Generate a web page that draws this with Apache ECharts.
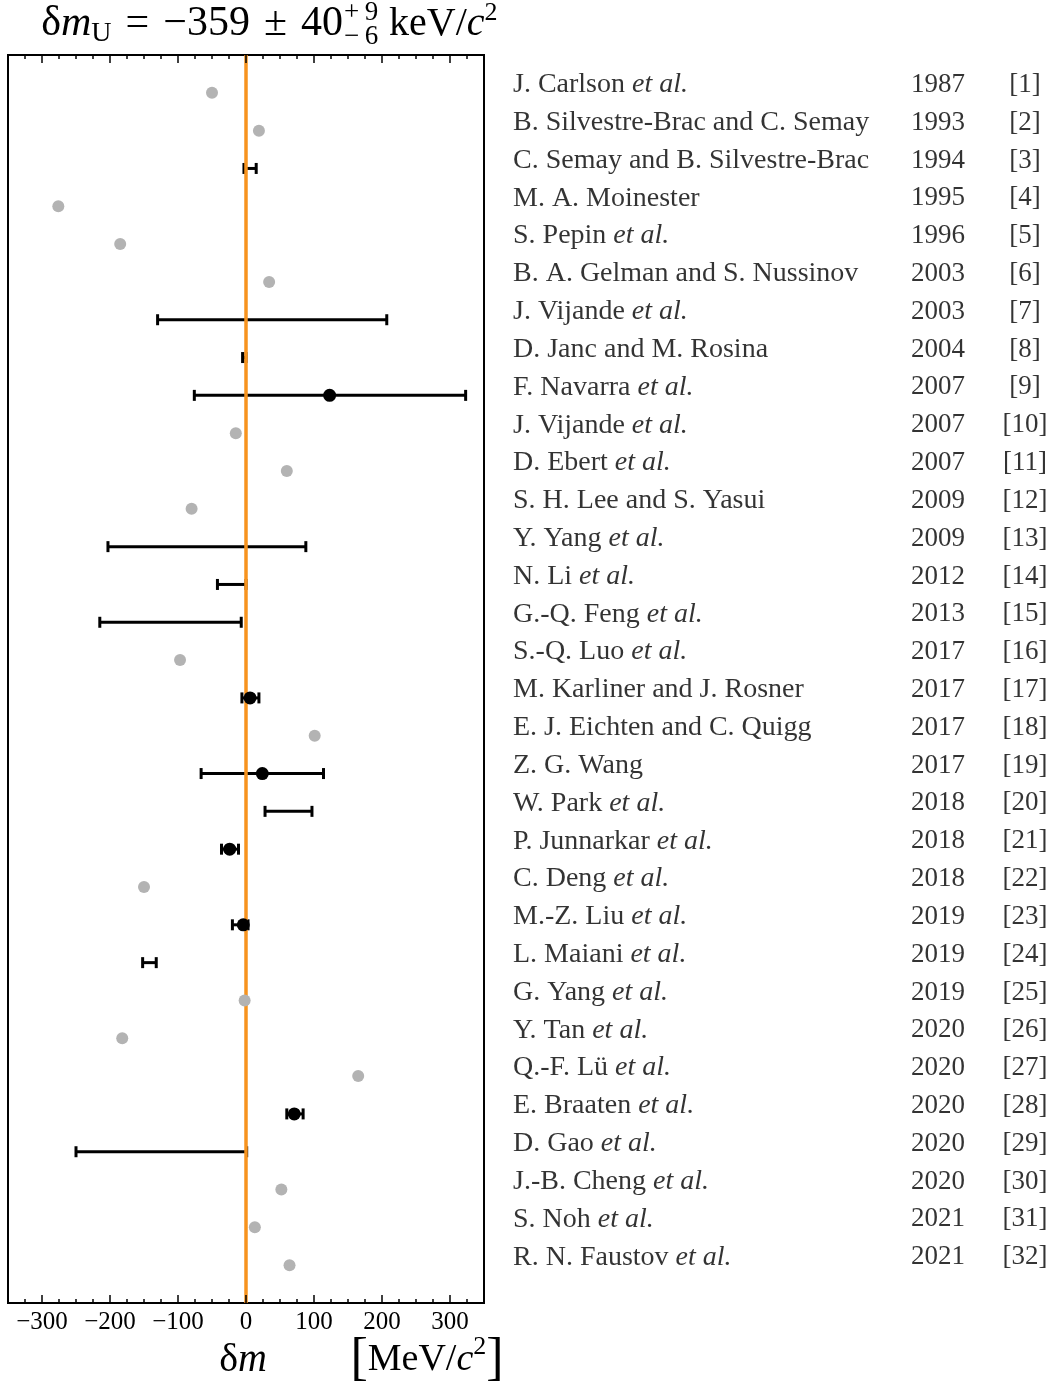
<!DOCTYPE html>
<html>
<head>
<meta charset="utf-8">
<title>delta m_U</title>
<script src="https://cdn.jsdelivr.net/npm/echarts@6/dist/echarts.min.js"></script>
<style>html,body{margin:0;padding:0;background:#fff}#main{width:1048px;height:1386px}</style>
</head>
<body>
<div id="main"></div>
<script>
// references, top to bottom
var names = [
  'J. Carlson et al.', 'B. Silvestre-Brac and C. Semay', 'C. Semay and B. Silvestre-Brac',
  'M. A. Moinester', 'S. Pepin et al.', 'B. A. Gelman and S. Nussinov', 'J. Vijande et al.',
  'D. Janc and M. Rosina', 'F. Navarra et al.', 'J. Vijande et al.', 'D. Ebert et al.',
  'S. H. Lee and S. Yasui', 'Y. Yang et al.', 'N. Li et al.', 'G.-Q. Feng et al.',
  'S.-Q. Luo et al.', 'M. Karliner and J. Rosner', 'E. J. Eichten and C. Quigg', 'Z. G. Wang',
  'W. Park et al.', 'P. Junnarkar et al.', 'C. Deng et al.', 'M.-Z. Liu et al.',
  'L. Maiani et al.', 'G. Yang et al.', 'Y. Tan et al.', 'Q.-F. L\u00fc et al.',
  'E. Braaten et al.', 'D. Gao et al.', 'J.-B. Cheng et al.', 'S. Noh et al.', 'R. N. Faustov et al.'
];
var years = ['1987','1993','1994','1995','1996','2003','2003','2004','2007','2007','2007',
  '2009','2009','2012','2013','2017','2017','2017','2017','2018','2018','2018','2019',
  '2019','2019','2020','2020','2020','2020','2020','2021','2021'];
var refs = ['[1]','[2]','[3]','[4]','[5]','[6]','[7]','[8]','[9]','[10]','[11]','[12]','[13]',
  '[14]','[15]','[16]','[17]','[18]','[19]','[20]','[21]','[22]','[23]','[24]','[25]','[26]',
  '[27]','[28]','[29]','[30]','[31]','[32]'];

// [delta m in MeV/c^2, row]
var grayPoints = [[-50,1],[19,2],[-276,4],[-185,5],[34,6],[-15,10],[60,11],[-80,12],[-97,16],
  [101,18],[-150,22],[-2,25],[-182,26],[165,27],[52,30],[13,31],[64,32]];
var blackPoints = [[123,9],[6,17],[24,19],[-24,21],[-4,23],[71,28]];
// [low, high, row]
var errorBars = [[-3,15,3],[-130,207,7],[-5,0,8],[-76,323,9],[-203,88,13],[-42,0,14],
  [-215,-7,15],[-6,19,17],[-66,114,19],[28,97,20],[-36,-11,21],[-20,3,23],[-152,-132,24],
  [60,84,28],[-250,1,29]];

var majorTicks = [-300,-200,-100,0,100,200,300];
var minorTicks = [-325,-275,-250,-225,-175,-150,-125,-75,-50,-25,
  25,50,75,125,150,175,225,250,275,325];

var FONT = 'Liberation Serif';
var ROWS_MAX = 33;
var myChart = echarts.init(document.getElementById('main'));

function fmtName(n) {
  if (n.indexOf(' et al.') > 0) {
    return '{n|' + n.replace(' et al.', '') + ' }{i|et al.}';
  }
  return '{n|' + n + '}';
}

// inward ticks on the top and bottom frame edges
function tickSeries(ticks, len) {
  return {
    type: 'custom', xAxisIndex: 0, yAxisIndex: 0, z: 6, silent: true,
    data: ticks.map(function (v) { return [v]; }),
    encode: {x: 0},
    renderItem: function (params, api) {
      var top = api.coord([api.value(0), 0]);
      var bot = api.coord([api.value(0), ROWS_MAX]);
      var st = {stroke: '#000', lineWidth: 1.5};
      return {type: 'group', children: [
        {type: 'line', shape: {x1: top[0], y1: top[1], x2: top[0], y2: top[1] + len}, style: st},
        {type: 'line', shape: {x1: bot[0], y1: bot[1], x2: bot[0], y2: bot[1] - len}, style: st}
      ]};
    }
  };
}

var option = {
  animation: false,
  grid: [
    {left: 8, top: 55, right: 564, bottom: 83, show: true, borderColor: '#000', borderWidth: 2},
    {left: 505, top: 55, right: 0, bottom: 83}
  ],
  xAxis: [
    {
      gridIndex: 0, type: 'value', min: -350, max: 350, position: 'bottom',
      axisLine: {show: false}, splitLine: {show: false}, axisTick: {show: false},
      axisLabel: {
        show: true, customValues: majorTicks, margin: 7,
        fontFamily: FONT, fontSize: 25, color: '#000',
        formatter: function (v) { return String(v).replace('-', '\u2212'); }
      }
    },
    {gridIndex: 1, type: 'value', min: 0, max: 543, show: false}
  ],
  yAxis: [
    {gridIndex: 0, type: 'value', min: 0, max: ROWS_MAX, inverse: true, show: false},
    {gridIndex: 1, type: 'value', min: 0, max: ROWS_MAX, inverse: true, show: false}
  ],
  graphic: [
    {type: 'text', x: 343, y: 0, style: {
      text: '{d|\u03b4}{m|m}{s|U}{t|\u2004=\u2004\u2212359\u2004\u00b1\u200440}',
      textAlign: 'right', textVerticalAlign: 'top',
      rich: {
        d: {fontFamily: FONT, fontSize: 42, lineHeight: 48, fill: '#000'},
        m: {fontFamily: FONT, fontSize: 42, lineHeight: 48, fontStyle: 'italic', fill: '#000'},
        s: {fontFamily: FONT, fontSize: 28, lineHeight: 27, verticalAlign: 'bottom', fill: '#000'},
        t: {fontFamily: FONT, fontSize: 42, lineHeight: 48, fill: '#000'}
      }
    }},
    {type: 'text', x: 344, y: 13, style: {text: '+\u20099', font: '27px "Liberation Serif"', fill: '#000',
      textAlign: 'left', textVerticalAlign: 'middle'}},
    {type: 'text', x: 344, y: 37, style: {text: '\u2212\u20096', font: '27px "Liberation Serif"', fill: '#000',
      textAlign: 'left', textVerticalAlign: 'middle'}},
    {type: 'text', x: 389, y: 0, style: {
      text: '{t|keV/}{c|c}{p|2}',
      textAlign: 'left', textVerticalAlign: 'top',
      rich: {
        t: {fontFamily: FONT, fontSize: 40, lineHeight: 48, fill: '#000'},
        c: {fontFamily: FONT, fontSize: 40, lineHeight: 48, fontStyle: 'italic', fill: '#000'},
        p: {fontFamily: FONT, fontSize: 26, lineHeight: 30, verticalAlign: 'top', fill: '#000'}
      }
    }},
    {type: 'text', x: 243, y: 1360, style: {
      text: '{d|\u03b4}{m|m}', textAlign: 'center', textVerticalAlign: 'middle',
      rich: {
        d: {fontFamily: FONT, fontSize: 40, fill: '#000'},
        m: {fontFamily: FONT, fontSize: 40, fontStyle: 'italic', fill: '#000'}
      }
    }},
    {type: 'text', x: 427, y: 1360, style: {
      text: '{b|[}{t|MeV/}{c|c}{p|2}{b|]}', textAlign: 'center', textVerticalAlign: 'middle',
      rich: {
        b: {fontFamily: FONT, fontSize: 52, lineHeight: 52, fill: '#000'},
        t: {fontFamily: FONT, fontSize: 38, lineHeight: 52, fill: '#000'},
        c: {fontFamily: FONT, fontSize: 38, lineHeight: 52, fontStyle: 'italic', fill: '#000'},
        p: {fontFamily: FONT, fontSize: 26, lineHeight: 40, verticalAlign: 'top', fill: '#000'}
      }
    }}
  ],
  series: [
    {
      type: 'custom', xAxisIndex: 0, yAxisIndex: 0, z: 2, silent: true,
      data: errorBars,
      encode: {x: [0, 1], y: 2},
      renderItem: function (params, api) {
        var a = api.coord([api.value(0), api.value(2)]);
        var b = api.coord([api.value(1), api.value(2)]);
        var h = 5.5;
        var st = {stroke: '#000', lineWidth: 3};
        return {type: 'group', children: [
          {type: 'line', shape: {x1: a[0], y1: a[1], x2: b[0], y2: b[1]}, style: st},
          {type: 'line', shape: {x1: a[0], y1: a[1] - h, x2: a[0], y2: a[1] + h}, style: st},
          {type: 'line', shape: {x1: b[0], y1: b[1] - h, x2: b[0], y2: b[1] + h}, style: st}
        ]};
      }
    },
    {
      type: 'line', xAxisIndex: 0, yAxisIndex: 0, z: 3, silent: true,
      data: [[0, 0], [0, ROWS_MAX]], symbol: 'none',
      lineStyle: {color: '#f7931e', width: 3.5}
    },
    {
      type: 'scatter', xAxisIndex: 0, yAxisIndex: 0, z: 4, silent: true,
      data: grayPoints, symbolSize: 12, itemStyle: {color: '#b3b3b3', opacity: 1}
    },
    {
      type: 'scatter', xAxisIndex: 0, yAxisIndex: 0, z: 5, silent: true,
      data: blackPoints, symbolSize: 13, itemStyle: {color: '#000', opacity: 1}
    },
    tickSeries(majorTicks, 8),
    tickSeries(minorTicks, 4),
    {
      type: 'scatter', xAxisIndex: 1, yAxisIndex: 1, silent: true, symbolSize: 0,
      data: names.map(function (n, i) { return [8, i + 1]; }),
      label: {show: true, position: 'inside', align: 'left', verticalAlign: 'middle', offset: [0, -8],
        fontFamily: FONT, fontSize: 28, color: '#000',
        formatter: function (p) { return fmtName(names[p.dataIndex]); },
        rich: {
          n: {fontFamily: FONT, fontSize: 28, color: '#000'},
          i: {fontFamily: FONT, fontSize: 28, color: '#000', fontStyle: 'italic'}
        }}
    },
    {
      type: 'scatter', xAxisIndex: 1, yAxisIndex: 1, silent: true, symbolSize: 0,
      data: years.map(function (y, i) { return [433, i + 1]; }),
      label: {show: true, position: 'inside', align: 'center', verticalAlign: 'middle', offset: [0, -8],
        fontFamily: FONT, fontSize: 27, color: '#000',
        formatter: function (p) { return years[p.dataIndex]; }}
    },
    {
      type: 'scatter', xAxisIndex: 1, yAxisIndex: 1, silent: true, symbolSize: 0,
      data: refs.map(function (r, i) { return [520, i + 1]; }),
      label: {show: true, position: 'inside', align: 'center', verticalAlign: 'middle', offset: [0, -8],
        fontFamily: FONT, fontSize: 27, color: '#000',
        formatter: function (p) { return refs[p.dataIndex]; }}
    }
  ]
};

myChart.setOption(option);
</script>
</body>
</html>
